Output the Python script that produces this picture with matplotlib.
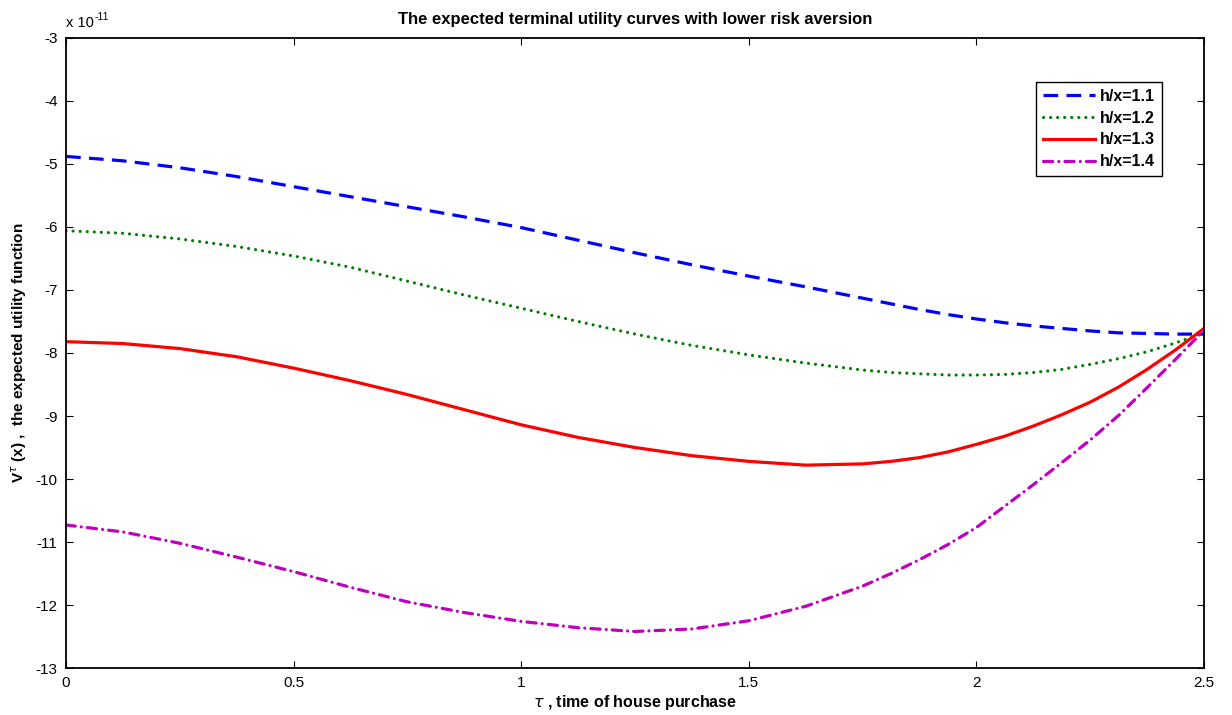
import numpy as np
import matplotlib
matplotlib.use("Agg")
import matplotlib.pyplot as plt

plt.rcParams['font.family'] = ['Liberation Sans', 'DejaVu Sans']
plt.rcParams['axes.unicode_minus'] = False
plt.rcParams['mathtext.fontset'] = 'dejavusans'

# time of house purchase (finer steps near the right end where curves bend)
tau = [0.0, 0.125, 0.25, 0.375, 0.5, 0.625, 0.75, 0.875, 1.0, 1.125, 1.25,
       1.375, 1.5, 1.625, 1.75, 1.8125, 1.875, 1.9375, 2.0, 2.0625, 2.125,
       2.1875, 2.25, 2.3125, 2.375, 2.4375, 2.5]

# expected utility, in units of 1e-11
v_11 = [-4.88, -4.95, -5.06, -5.20, -5.36, -5.52, -5.68, -5.84, -6.01, -6.21, -6.41,
        -6.60, -6.78, -6.95, -7.13, -7.22, -7.31, -7.39, -7.46, -7.52, -7.57,
        -7.61, -7.65, -7.68, -7.69, -7.70, -7.70]
v_12 = [-6.06, -6.10, -6.19, -6.31, -6.46, -6.64, -6.86, -7.08, -7.29, -7.50, -7.70,
        -7.88, -8.03, -8.16, -8.27, -8.31, -8.33, -8.35, -8.35, -8.34, -8.31,
        -8.26, -8.18, -8.09, -7.98, -7.84, -7.68]
v_13 = [-7.82, -7.85, -7.93, -8.06, -8.24, -8.44, -8.66, -8.90, -9.14, -9.34, -9.50,
        -9.63, -9.72, -9.78, -9.76, -9.72, -9.66, -9.57, -9.45, -9.32, -9.16,
        -8.98, -8.78, -8.54, -8.26, -7.95, -7.61]
v_14 = [-10.73, -10.84, -11.02, -11.24, -11.47, -11.72, -11.95, -12.12, -12.26, -12.36, -12.42,
        -12.38, -12.25, -12.02, -11.70, -11.50, -11.28, -11.04, -10.77, -10.43, -10.09,
        -9.74, -9.38, -8.99, -8.55, -8.10, -7.64]

labels = ['h/x=1.1', 'h/x=1.2', 'h/x=1.3', 'h/x=1.4']

fig = plt.figure(figsize=(12.32, 7.15), dpi=100)
ax = fig.add_axes([0.0536, 0.0657, 0.9237, 0.8812])

lw = 2.3
ax.plot(tau, v_11, color='#0000ff', lw=lw, linestyle=(0, (4.6, 2.6)), label=labels[0])
ax.plot(tau, v_12, color='#007f00', lw=lw, linestyle=(0, (0.01, 2.2)),
        dash_capstyle='round', label=labels[1])
ax.plot(tau, v_13, color='#ff0000', lw=lw, linestyle='-', label=labels[2])
ax.plot(tau, v_14, color='#bf00bf', lw=lw, linestyle=(0, (2.9, 1.9, 0.01, 1.9)),
        dash_capstyle='round', label=labels[3])

ax.set_xlim(0, 2.5)
ax.set_ylim(-13, -3)
ax.set_xticks([0, 0.5, 1, 1.5, 2, 2.5])
ax.set_xticklabels(['0', '0.5', '1', '1.5', '2', '2.5'])
ax.set_yticks(np.arange(-13, -2, 1))
ax.set_yticklabels([str(v) for v in range(-13, -2)])
ax.tick_params(direction='in', top=True, right=True, length=5, width=0.8,
               labelsize=11, pad=6)
for sp in ax.spines.values():
    sp.set_linewidth(1.3)

ax.set_title('The expected terminal utility curves with lower risk aversion',
             fontsize=12, fontweight='bold', pad=10)
ax.set_xlabel(r'$\tau$ , time of house purchase', fontsize=11.5, fontweight='bold', labelpad=2)
ax.set_ylabel(r'V$^{\tau}$ (x) ,  the expected utility function', fontsize=11,
              fontweight='bold', labelpad=5)
ax.text(0.0, 1.012, 'x 10', transform=ax.transAxes, fontsize=10.5,
        ha='left', va='bottom')
ax.text(0.0253, 1.026, '-11', transform=ax.transAxes, fontsize=7.5,
        ha='left', va='bottom')

leg = ax.legend(loc='upper right', bbox_to_anchor=(0.9705, 0.943), fontsize=11.5,
                handlelength=3.3, handletextpad=0.3, borderpad=0.45,
                labelspacing=0.42, fancybox=False, framealpha=1)
leg.get_frame().set_edgecolor('black')
leg.get_frame().set_linewidth(1.0)
for t in leg.get_texts():
    t.set_fontweight('bold')

fig.savefig('out.png', dpi=100)
